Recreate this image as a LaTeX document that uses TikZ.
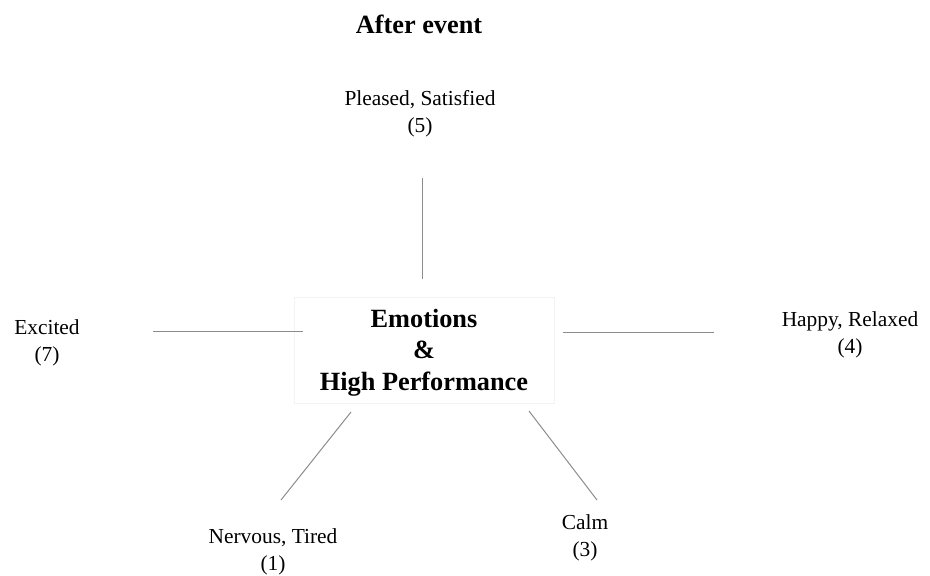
\documentclass[tikz,border=0pt]{standalone}
\usepackage{fontspec}
\setmainfont{Liberation Serif}
\definecolor{linkgray}{RGB}{140,140,140}
\definecolor{boxedge}{RGB}{243,243,243}
\tikzset{
  % multi-line nodes: the base anchor sits on the last line
  label text/.style={align=center, inner sep=0pt, anchor=base,
    font=\fontsize{21.4}{26.8}\selectfont},
  title text/.style={align=center, inner sep=0pt, anchor=base,
    font=\fontsize{26.3}{31.5}\selectfont\bfseries},
  corebox/.style={draw=boxedge, line width=0.8pt, minimum width=260pt,
    minimum height=106pt, inner sep=0pt},
  link/.style={draw=linkgray, line width=1pt}
}
\begin{document}
\begin{tikzpicture}[x=1pt, y=-1pt]
  \useasboundingbox (0,0) rectangle (930,576);

  % heading
  \node[title text] (title) at (419,33) {After event};

  % central concept
  \node[corebox] (core) at (424,350) {};
  \node[title text] (coretext) at (424,390) {Emotions\\\&\\High Performance};

  % surrounding emotions
  \node[label text] (pleased) at (420,132) {Pleased, Satisfied\\(5)};
  \node[label text] (excited) at (47,361) {Excited\\(7)};
  \node[label text] (happy) at (850,353) {Happy, Relaxed\\(4)};
  \node[label text] (nervous) at (273,570) {Nervous, Tired\\(1)};
  \node[label text] (calm) at (585,556) {Calm\\(3)};

  % connector ends
  \coordinate (pleasedEnd) at (422,178);
  \coordinate (coreTop) at (422,279);
  \coordinate (excitedEnd) at (153,331);
  \coordinate (coreLeft) at (303,331);
  \coordinate (happyEnd) at (714,332);
  \coordinate (coreRight) at (563,332);
  \coordinate (nervousEnd) at (281,500);
  \coordinate (coreLowLeft) at (351,412);
  \coordinate (calmEnd) at (597,500);
  \coordinate (coreLowRight) at (529,411);

  % connectors
  \draw[link] (coreTop) -- (pleasedEnd);
  \draw[link] (coreLeft) -- (excitedEnd);
  \draw[link] (coreRight) -- (happyEnd);
  \draw[link] (coreLowLeft) -- (nervousEnd);
  \draw[link] (coreLowRight) -- (calmEnd);
\end{tikzpicture}
\end{document}
